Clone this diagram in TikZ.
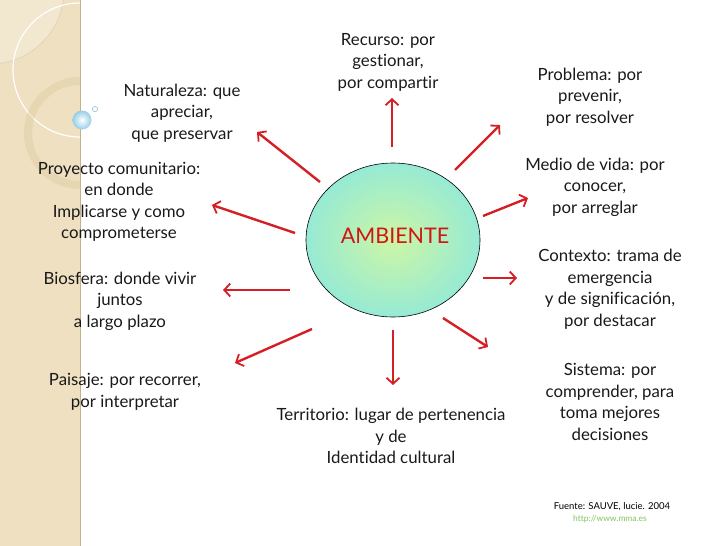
\documentclass[tikz,border=0pt]{standalone}
\usepackage{fontspec}
\setmainfont{Lato}[Ligatures={NoCommon}]
\usepackage{tikz}
\usepackage{xcolor}
\usetikzlibrary{arrows.meta}
\usetikzlibrary{shapes.geometric}
\definecolor{stripbeige}{RGB}{238,224,192}
\definecolor{stripedge}{RGB}{196,178,140}
\definecolor{ringtan}{RGB}{222,204,160}
\definecolor{arrowred}{RGB}{212,32,36}
\definecolor{ambred}{RGB}{210,20,20}
\definecolor{linkgreen}{RGB}{130,195,95}
\definecolor{ambin}{RGB}{205,246,165}
\definecolor{ambout}{RGB}{150,234,212}
\definecolor{bubble}{RGB}{150,205,230}
\tikzstyle{lbl} = [align=center, text=black!90, font=\fontsize{16.8}{21.5}\selectfont]
\tikzstyle{arrow} = [draw=arrowred, line width=2.4pt, -{Straight Barb[length=6pt, width=13pt, line width=1.8pt]}]

\begin{document}
\begin{tikzpicture}[x=1pt, y=-1pt]
    \useasboundingbox (0,0) rectangle (728,546);
    \fill[stripbeige] (0,0) rectangle (80,546);
    \begin{scope}
        \clip (0,0) rectangle (80,546);
        \fill[white, opacity=0.25] (-10,-10) circle [radius=74];
        \draw[stripedge!60, line width=0.6pt] (-10,-10) circle [radius=74];
        \draw[white, line width=1.2pt] (80,70) circle [radius=67];
        \draw[ringtan, opacity=0.45, line width=8pt] (80,133) circle [radius=52];
    \end{scope}
    \draw[stripedge, line width=0.8pt] (80,0) -- (80,546);
    \shade[inner color=white, outer color=bubble, shading=radial] (82,120) circle [radius=9.5];
    \draw[bubble!80!gray, line width=0.6pt] (95,109) circle [radius=2.6];

    \node (amb) [ellipse, draw=black, line width=0.6pt, minimum width=174pt, minimum height=154pt,
        inner color=ambin, outer color=ambout, shading=radial] at (393,240) {};
    \node (ambtxt) [text=ambred, font=\fontsize{21.5}{24}\selectfont] at (395,236) {AMBIENTE};

    \node (rec) [lbl] at (388,62) {Recurso: por\\gestionar,\\por compartir};
    \node (nat) [lbl] at (182,113) {Naturaleza: que\\apreciar,\\que preservar};
    \node (pro) [lbl] at (119,202) {Proyecto comunitario:\\en donde\\Implicarse y como\\comprometerse};
    \node (bio) [lbl] at (120,301) {Biosfera: donde vivir\\juntos\\a largo plazo};
    \node (pai) [lbl] at (125,392) {Paisaje: por recorrer,\\por interpretar};
    \node (ter) [lbl] at (391,436) {Territorio: lugar de pertenencia\\y de\\Identidad cultural};
    \node (sis) [lbl] at (610,402) {Sistema: por\\comprender, para\\toma mejores\\decisiones};
    \node (con) [lbl] at (610,289) {Contexto: trama de\\emergencia\\y de significación,\\por destacar};
    \node (med) [lbl] at (595,187) {Medio de vida: por\\conocer,\\por arreglar};
    \node (prb) [lbl] at (590,97) {Problema: por\\prevenir,\\por resolver};

    \node (fuente) [font=\fontsize{9.5}{11}\selectfont] at (612,507) {Fuente: SAUVE, lucie. 2004};
    \node (url) [text=linkgreen, font=\fontsize{8.5}{10}\selectfont] at (610,519) {http://www.mma.es};

    \coordinate (rec-s) at (392,147);
    \coordinate (rec-e) at (392,98);
    \coordinate (nat-s) at (320,182);
    \coordinate (nat-e) at (257,132);
    \coordinate (pro-s) at (295,233);
    \coordinate (pro-e) at (212,205);
    \coordinate (bio-s) at (290,290);
    \coordinate (bio-e) at (223,290);
    \coordinate (pai-s) at (312,329);
    \coordinate (pai-e) at (235,363);
    \coordinate (ter-s) at (393,330);
    \coordinate (ter-e) at (393,385);
    \coordinate (sis-s) at (443,318);
    \coordinate (sis-e) at (488,347);
    \coordinate (con-s) at (483,278);
    \coordinate (con-e) at (517,278);
    \coordinate (med-s) at (483,216);
    \coordinate (med-e) at (528,198);
    \coordinate (prb-s) at (455,170);
    \coordinate (prb-e) at (500,125);

    \foreach \k in {rec,nat,pro,bio,pai,ter,sis,con,med,prb}
        \draw[arrow] (\k-s) -- (\k-e);
\end{tikzpicture}
\end{document}
